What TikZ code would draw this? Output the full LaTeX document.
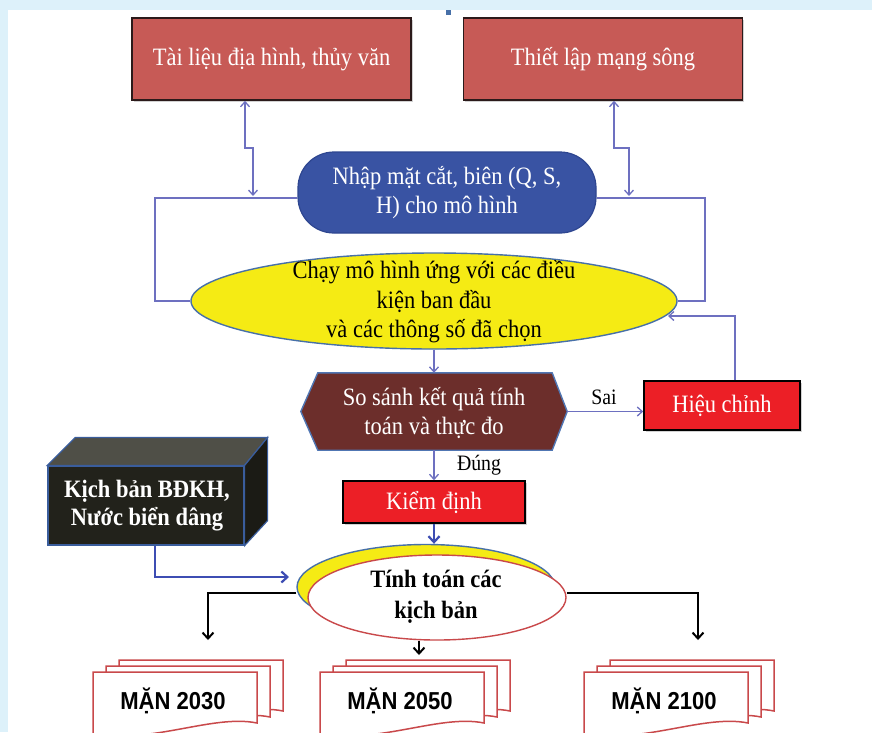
\documentclass[tikz,border=0pt]{standalone}
\usepackage{fontspec}
\setmainfont{Liberation Serif}[FakeStretch=0.9]
\newfontfamily\mansans{Liberation Sans}[FakeStretch=0.9]
\usetikzlibrary{arrows.meta,shapes.geometric,shadows,calc}

\definecolor{bgblue}{HTML}{DDF1FA}
\definecolor{topred}{HTML}{C75A56}
\definecolor{boxedge}{HTML}{2B1A1A}
\definecolor{nhapblue}{HTML}{3953A3}
\definecolor{nhapedge}{HTML}{2E4690}
\definecolor{yellowfill}{HTML}{F5EB14}
\definecolor{yellowedge}{HTML}{4770A8}
\definecolor{hexbrown}{HTML}{6C2E2B}
\definecolor{hexedge}{HTML}{5076B3}
\definecolor{brightred}{HTML}{EC1F26}
\definecolor{linkblue}{HTML}{6D70C0}
\definecolor{thickblue}{HTML}{3D4DB3}
\definecolor{cubefront}{HTML}{22221B}
\definecolor{cubetop}{HTML}{4F4F47}
\definecolor{cuberight}{HTML}{1B1B15}
\definecolor{cubeedge}{HTML}{3A5D9C}
\definecolor{docred}{HTML}{C9494B}

\tikzset{
  bodyfont/.style={font=\fontsize{25}{29.5}\selectfont},
  topbox/.style={bodyfont, draw=boxedge, line width=1.6pt, fill=topred, text=white,
    minimum width=279pt, minimum height=82pt, align=center,
    drop shadow={opacity=0.35, shadow xshift=1.5pt, shadow yshift=-1.5pt}},
  redbox/.style={bodyfont, draw=black, line width=1.6pt, fill=brightred, text=white,
    align=center, inner sep=0pt,
    drop shadow={opacity=0.35, shadow xshift=1.5pt, shadow yshift=-1.5pt}},
  whitetext/.style={bodyfont, text=white, align=center, inner sep=0pt},
  blacktext/.style={bodyfont, text=black, align=center, inner sep=0pt},
  lbl/.style={font=\fontsize{22}{24}\selectfont, text=black, inner sep=0pt},
  mantext/.style={font=\mansans\bfseries\fontsize{24.5}{26}\selectfont, text=black, inner sep=0pt},
  conn/.style={draw=linkblue, line width=1.3pt},
  thick conn/.style={draw=thickblue, line width=2.2pt},
  black conn/.style={draw=black, line width=2pt},
  barb/.tip={Straight Barb[length=5pt,width=9pt]},
  bigbarb/.tip={Straight Barb[length=6pt,width=11pt]},
  docline/.style={draw=docred, line width=1.5pt, fill=white},
}

% three stacked document sheets with a wavy lower edge and a caption
\newcommand\mandoc[4]{%
  \foreach \k in {2,1,0}{%
    \begin{scope}[shift={({#1+13*\k},{#2-6*\k})}]
      \filldraw[docline] (0,0) -- (164,0) -- (164,51)
        .. controls (120,42) and (60,72) .. (0,62) -- cycle;
    \end{scope}
  }
  \node[mantext] (#4) at ({#1+80},{#2+29}) {#3};
}

\begin{document}
\begin{tikzpicture}[x=1pt,y=-1pt]
\useasboundingbox (0,0) rectangle (872,732);
\clip (0,0) rectangle (872,732);

% page background
\fill[bgblue] (0,0) rectangle (872,732);
\fill[white] (8,10) rectangle (872,732);
\fill[yellowedge] (446,10) rectangle (451,15);

% data sources
\node[topbox] (tailieu) at (271.5,59) {Tài liệu địa hình, thủy văn};
\node[topbox] (mangsong) at (603,59) {Thiết lập mạng sông};

% model input
\node[draw=nhapedge, line width=1.2pt, fill=nhapblue, rounded corners=36pt,
      minimum width=298pt, minimum height=81pt, whitetext] (nhap) at (447,192.5)
      {Nhập mặt cắt, biên (Q, S,\\H) cho mô hình};

% model run
\node[ellipse, draw=yellowedge, line width=1.4pt, fill=yellowfill,
      minimum width=486pt, minimum height=96pt, inner sep=0pt] (chay) at (434,301) {};
\node[blacktext] (chaytxt) at (434,302)
      {Chạy mô hình ứng với các điều\\kiện ban đầu\\và các thông số đã chọn};

% comparison step
\node[minimum width=266pt, minimum height=77pt, inner sep=0pt] (sosanh) at (434,411.5) {};
\filldraw[fill=hexbrown, draw=hexedge, line width=1.4pt]
  (sosanh.west) -- ([xshift=17pt]sosanh.north west) -- ([xshift=-15pt]sosanh.north east)
  -- (sosanh.east) -- ([xshift=-15pt]sosanh.south east) -- ([xshift=17pt]sosanh.south west)
  -- cycle;
\node[whitetext] (sosanhtxt) at (434,413) {So sánh kết quả tính\\toán và thực đo};

\node[redbox, minimum width=156pt, minimum height=49pt] (hieu) at (722,405.5) {Hiệu chỉnh};
\node[redbox, minimum width=182pt, minimum height=42pt] (kiem) at (434,502) {Kiểm định};

% climate scenario block
\node[fill=cubefront, draw=cubeedge, line width=1.2pt, minimum width=196pt,
      minimum height=79pt, inner sep=0pt] (bdkh) at (146,505.5) {};
\filldraw[fill=cubetop, draw=cubeedge, line width=1.2pt]
  (bdkh.north west) -- ++(28,-28) -- ([shift={(23,-28)}]bdkh.north east)
  -- (bdkh.north east) -- cycle;
\filldraw[fill=cuberight, draw=cubeedge, line width=1.2pt]
  (bdkh.north east) -- ++(23,-28) -- ([shift={(23,-25)}]bdkh.south east)
  -- (bdkh.south east) -- cycle;
\node[whitetext, font=\bfseries\fontsize{25}{28}\selectfont] (bdkhtxt) at (147,506)
      {Kịch bản BĐKH,\\Nước biển dâng};

% scenario computation
\node[ellipse, draw=yellowedge, line width=1.4pt, fill=yellowfill,
      minimum width=258pt, minimum height=85pt, inner sep=0pt] (tinhback) at (426,587) {};
\node[ellipse, draw=docred, line width=1.4pt, fill=white,
      minimum width=258pt, minimum height=85pt, inner sep=0pt] (tinh) at (437,597.5) {};
\node[blacktext, font=\bfseries\fontsize{25}{31}\selectfont] (tinhtxt) at (436,597)
      {Tính toán các\\kịch bản};

% salinity outputs
\mandoc{93}{672}{MẶN 2030}{m2030}
\mandoc{320}{672}{MẶN 2050}{m2050}
\mandoc{584}{672}{MẶN 2100}{m2100}

% connector corners
\coordinate (lstep) at (253,148);
\coordinate (lfoot) at (253,196);
\coordinate (rstep) at (629,148);
\coordinate (rfoot) at (629,196);
\coordinate (lloopa) at (155,198);
\coordinate (lloopb) at (155,301);
\coordinate (rloopa) at (705,198);
\coordinate (rloopb) at (705,301);
\coordinate (fbturn) at (735,316);
\coordinate (fbtip) at (668,316);
\coordinate (sbend) at (155,577);
\coordinate (stip) at (289,577);
\coordinate (lout) at (208,593);
\coordinate (lend) at (208,640);
\coordinate (rout) at (698,593);
\coordinate (rend) at (698,640);
\coordinate (mend) at (419,655);

% thin links
\draw[conn, barb-barb] (245,0 |- tailieu.south) -- (245,0 |- lstep) -- (lstep) -- (lfoot);
\draw[conn, barb-barb] (614,0 |- mangsong.south) -- (614,0 |- rstep) -- (rstep) -- (rfoot);
\draw[conn] (chay.west) -- (lloopb) -- (lloopa) -- (nhap.west |- lloopa);
\draw[conn] (nhap.east |- rloopa) -- (rloopa) -- (rloopb) -- (chay.east);
\draw[conn, -barb] (chay.south) -- (sosanh.north);
\draw[conn, -barb] (sosanh.east) -- (sosanh.east -| hieu.west);
\draw[conn, -barb] (735,0 |- hieu.north) -- (fbturn) -- (fbtip);
\draw[conn, -barb] (sosanh.south) -- (kiem.north);
\node[lbl] (sai) at (604,397) {Sai};
\node[lbl] (dung) at (479,465) {Đúng};

% heavy links
\draw[thick conn, -bigbarb] (kiem.south) -- (kiem.south |- tinhback.north);
\draw[thick conn, -bigbarb] (sbend |- bdkh.south) -- (sbend) -- (stip);
\draw[black conn, -bigbarb] (tinhback.west |- lout) -- (lout) -- (lend);
\draw[black conn, -bigbarb] (tinh.east |- rout) -- (rout) -- (rend);
\draw[black conn, -bigbarb] (419,0 |- tinh.south) -- (mend);
\end{tikzpicture}
\end{document}
